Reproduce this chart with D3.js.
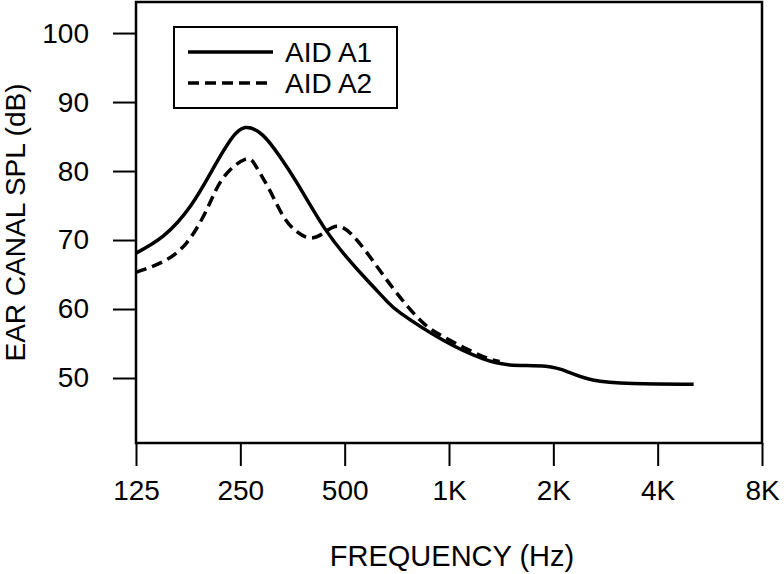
<!DOCTYPE html>
<html>
<head>
<meta charset="utf-8">
<script src="https://cdn.jsdelivr.net/npm/d3@7"></script>
<style>
  html, body { margin: 0; padding: 0; background: #fff; }
  svg { display: block; }
</style>
</head>
<body>
<div id="chart"></div>
<script>
// x ticks (Hz) and their labels
var freqTicks = [125, 250, 500, 1000, 2000, 4000, 8000];
var freqLabels = ['125', '250', '500', '1K', '2K', '4K', '8K'];
var splTicks = [50, 60, 70, 80, 90, 100];

// AID A1 (solid)
var a1Freq = [125, 150, 180, 210, 235, 258, 290, 325, 365, 435, 505, 580, 660, 725, 960, 1250, 1500, 1900, 2200, 2600, 3400, 5080];
var a1Spl  = [68.1, 70.6, 75.0, 80.6, 84.6, 86.3, 85.2, 82.1, 78.2, 71.9, 67.6, 64.2, 61.2, 59.4, 55.5, 52.8, 51.9, 51.7, 50.9, 49.7, 49.2, 49.1];

// AID A2 (dashed)
var a2Freq = [125, 150, 175, 200, 223, 258, 278, 304, 333, 364, 397, 434, 480, 542, 619, 707, 825, 963, 1230, 1400];
var a2Spl  = [65.3, 66.9, 69.6, 74.4, 79.0, 81.7, 80.6, 77.2, 73.4, 71.2, 70.3, 71.0, 72.0, 70.0, 66.2, 62.3, 58.4, 56.0, 53.3, 52.4];

var W = 784, H = 574;
var mLeft = 136, mRight = 762, mTop = 2, mBottom = 443;
var font = 'Liberation Sans, Arial, Helvetica, sans-serif';

var svg = d3.select('#chart').append('svg')
    .attr('width', W)
    .attr('height', H);

var x = d3.scaleLog().base(2).domain([125, 8000]).range([mLeft, mRight]);
var y = d3.scaleLinear().domain([40.58, 104.5]).range([mBottom, mTop]);

// frame
svg.append('rect')
    .attr('x', mLeft).attr('y', mTop)
    .attr('width', mRight - mLeft).attr('height', mBottom - mTop)
    .attr('fill', 'none')
    .attr('stroke', '#000')
    .attr('stroke-width', 2.5);

// x axis
var xAxis = d3.axisBottom(x)
    .tickValues(freqTicks)
    .tickFormat(function (d, i) { return freqLabels[i]; })
    .tickSize(23)
    .tickPadding(14);
var gx = svg.append('g')
    .attr('transform', 'translate(0,' + mBottom + ')')
    .call(xAxis);
gx.select('.domain').remove();
gx.selectAll('line').attr('stroke', '#000').attr('stroke-width', 2);
gx.selectAll('text')
    .attr('font-family', font)
    .attr('font-size', 28)
    .attr('fill', '#000');

// y axis
var yAxis = d3.axisLeft(y)
    .tickValues(splTicks)
    .tickSize(23)
    .tickPadding(24);
var gy = svg.append('g')
    .attr('transform', 'translate(' + mLeft + ',0)')
    .call(yAxis);
gy.select('.domain').remove();
gy.selectAll('line').attr('stroke', '#000').attr('stroke-width', 2);
gy.selectAll('text')
    .attr('font-family', font)
    .attr('font-size', 28)
    .attr('fill', '#000');

// axis titles
svg.append('text')
    .attr('x', (mLeft + mRight) / 2 + 3)
    .attr('y', 566)
    .attr('text-anchor', 'middle')
    .attr('font-family', font)
    .attr('font-size', 29)
    .text('FREQUENCY (Hz)');

svg.append('text')
    .attr('transform', 'translate(25,' + ((mTop + mBottom) / 2) + ')rotate(-90)')
    .attr('text-anchor', 'middle')
    .attr('font-family', font)
    .attr('font-size', 28)
    .text('EAR CANAL SPL (dB)');

// curves
var line = d3.line()
    .x(function (d) { return x(d[0]); })
    .y(function (d) { return y(d[1]); })
    .curve(d3.curveNatural);

var a1 = a1Freq.map(function (f, i) { return [f, a1Spl[i]]; });
var a2 = a2Freq.map(function (f, i) { return [f, a2Spl[i]]; });

svg.append('path')
    .attr('d', line(a2))
    .attr('fill', 'none')
    .attr('stroke', '#000')
    .attr('stroke-width', 3.5)
    .attr('stroke-dasharray', '11,6');

svg.append('path')
    .attr('d', line(a1))
    .attr('fill', 'none')
    .attr('stroke', '#000')
    .attr('stroke-width', 3.5);

// legend
var lg = svg.append('g');
lg.append('rect')
    .attr('x', 174).attr('y', 27)
    .attr('width', 223).attr('height', 81)
    .attr('fill', '#fff')
    .attr('stroke', '#000')
    .attr('stroke-width', 2);

var legendItems = [
    {name: 'AID A1', dash: null, y: 52},
    {name: 'AID A2', dash: '11,6', y: 83}
];
legendItems.forEach(function (it) {
    lg.append('line')
        .attr('x1', 188).attr('x2', 273)
        .attr('y1', it.y).attr('y2', it.y)
        .attr('stroke', '#000')
        .attr('stroke-width', 3.5)
        .attr('stroke-dasharray', it.dash);
    lg.append('text')
        .attr('x', 285)
        .attr('y', it.y + 10)
        .attr('font-family', font)
        .attr('font-size', 28)
        .text(it.name);
});
</script>
</body>
</html>
